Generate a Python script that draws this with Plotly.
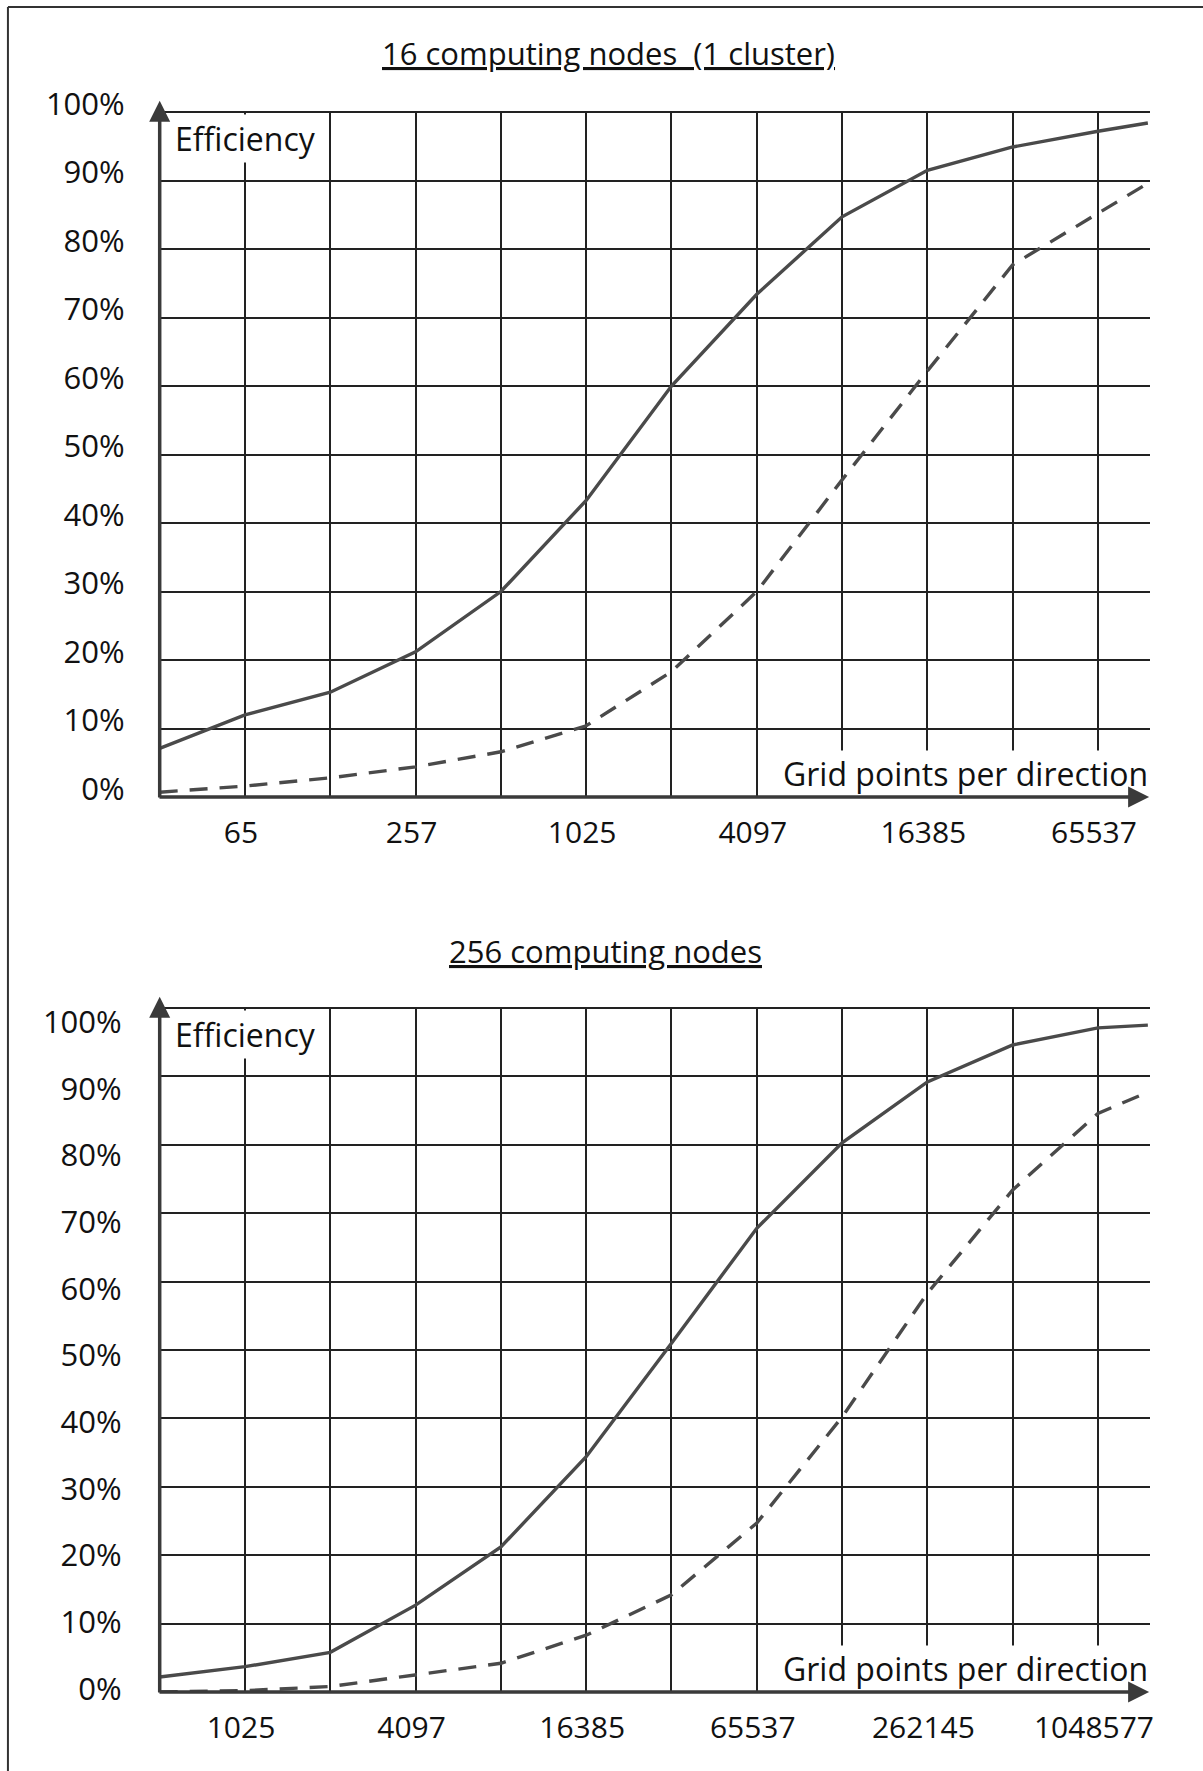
import numpy as np
import plotly.graph_objects as go

# ---------------- data ----------------
# Panel 1: 16 computing nodes (1 cluster)
grid_top = [33, 65, 129, 257, 513, 1025, 2049, 4097, 8193, 16385, 32769, 65537, 98305]
eff_top_solid = [7.1, 12.0, 15.3, 21.2, 30.0, 43.3, 60.0, 73.4, 84.7, 91.5, 94.9, 97.2, 98.4]
eff_top_dashed = [0.7, 1.6, 2.8, 4.4, 6.6, 10.4, 18.3, 30.0, 46.3, 62.2, 77.7, 85.2, 89.6]
ticks_top = [65, 129, 257, 513, 1025, 2049, 4097, 8193, 16385, 32769, 65537]
labels_top = ["65", "", "257", "", "1025", "", "4097", "", "16385", "", "65537"]

# Panel 2: 256 computing nodes
grid_bot = [513, 1025, 2049, 4097, 8193, 16385, 32769, 65537, 131073, 262145, 524289, 1048577, 1572865]
eff_bot_solid = [2.2, 3.7, 5.8, 12.7, 21.2, 34.4, 51.0, 67.8, 80.3, 89.2, 94.6, 97.1, 97.5]
eff_bot_dashed = [0.0, 0.2, 0.8, 2.5, 4.2, 8.3, 14.2, 24.7, 40.2, 58.3, 73.4, 84.6, 87.7]
ticks_bot = [1025, 2049, 4097, 8193, 16385, 32769, 65537, 131073, 262145, 524289, 1048577]
labels_bot = ["1025", "", "4097", "", "16385", "", "65537", "", "262145", "", "1048577"]

y_ticks = [0, 10, 20, 30, 40, 50, 60, 70, 80, 90, 100]
y_labels = [f"{v}%" for v in y_ticks]

titles = ["16 computing nodes&nbsp; (1 cluster)", "256 computing nodes"]
x_label = "Grid points per direction"
y_label = "Efficiency"


def pos(n):
    return np.log2(np.array(n, dtype=float) - 1)


FONT = "Open Sans"
LINE_C = "#4a4a4a"
GRID_C = "#222222"
AX_C = "#3a3a3a"
Y_TOP = 101.7  # room for the axis arrow head above 100 %

fig = go.Figure()

panels = [
    dict(grid=grid_top, solid=eff_top_solid, dashed=eff_top_dashed, ticks=ticks_top,
         labels=labels_top, xa="x", ya="y"),
    dict(grid=grid_bot, solid=eff_bot_solid, dashed=eff_bot_dashed, ticks=ticks_bot,
         labels=labels_bot, xa="x2", ya="y2"),
]

for p in panels:
    xs = pos(p["grid"])
    fig.add_trace(go.Scatter(x=xs, y=p["solid"], mode="lines", xaxis=p["xa"], yaxis=p["ya"],
                             line=dict(color=LINE_C, width=3.4), showlegend=False))
    fig.add_trace(go.Scatter(x=xs, y=p["dashed"], mode="lines", xaxis=p["xa"], yaxis=p["ya"],
                             line=dict(color=LINE_C, width=3.4, dash="18px,12px"), showlegend=False))

# empty trace so the label-only overlay axis of the lower panel is drawn
fig.add_trace(go.Scatter(x=[], y=[], xaxis="x2", yaxis="y3", showlegend=False, hoverinfo="skip"))

xdom = [0.13275, 0.95594]
ydom_top = [0.54997, 0.94331]
ydom_bot = [0.04461, 0.43738]

tick_font_x = dict(family=FONT, size=30, color="#111")
tick_font_y = dict(family=FONT, size=31, color="#111")

common_x = dict(showgrid=True, gridcolor=GRID_C, gridwidth=1.6, zeroline=False, showline=False,
                ticks="", tickmode="array", tickfont=tick_font_x,
                ticklabelstandoff=15, ticklabelshift=-4, automargin=False)
common_y = dict(showgrid=True, gridcolor=GRID_C, gridwidth=1.6, zeroline=False, showline=False,
                ticks="", tickmode="array", tickvals=y_ticks, ticktext=y_labels,
                tickfont=tick_font_y, range=[0, Y_TOP], automargin=False)

x0_top = pos([grid_top[0]])[0]
x0_bot = pos([grid_bot[0]])[0]
xend_top = x0_top + 11.61
xend_bot = x0_bot + 11.61

fig.update_layout(
    width=1203, height=1771, autosize=False,
    margin=dict(l=0, r=0, t=0, b=0, pad=0, autoexpand=False),
    paper_bgcolor="white", plot_bgcolor="white", showlegend=False,
    xaxis=dict(domain=xdom, range=[x0_top, xend_top], tickvals=pos(ticks_top), ticktext=labels_top,
               anchor="y", **common_x),
    yaxis=dict(domain=ydom_top, anchor="x", ticklabelshift=-8, ticklabelstandoff=34, **common_y),
    xaxis2=dict(domain=xdom, range=[x0_bot, xend_bot], tickvals=pos(ticks_bot), ticktext=labels_bot,
                anchor="y2", **common_x),
    yaxis2=dict(domain=ydom_bot, anchor="x2", showticklabels=False, **common_y),
    # the scanned lower panel prints its % labels slightly tighter than its grid
    yaxis3=dict(overlaying="y2", anchor="x2", side="left", range=[-0.45, 103.84],
                tickmode="array", tickvals=y_ticks, ticktext=y_labels, tickfont=tick_font_y,
                showgrid=False, zeroline=False, showline=False, ticks="",
                ticklabelstandoff=37, automargin=False),
)

annotations = []
title_pos = [(0.5062, 0.97007), (0.5037, 0.46302)]
doms = [ydom_top, ydom_bot]
for i, p in enumerate(panels):
    xa, ya = p["xa"], p["ya"]
    x0 = x0_top if i == 0 else x0_bot
    xend = xend_top if i == 0 else xend_bot
    # hide vertical grid above the 100 % line (paper-referenced white band)
    d0, d1 = doms[i]
    y_cut = d0 + (100.15 / Y_TOP) * (d1 - d0)
    fig.add_shape(type="rect", xref="paper", yref="paper", x0=xdom[0] + 0.002, x1=xdom[1] + 0.002,
                  y0=y_cut, y1=d1 + 0.004, fillcolor="white", line=dict(width=0), layer="above")
    # titles
    annotations.append(dict(text=f"<u>{titles[i]}</u>", xref="paper", yref="paper",
                            x=title_pos[i][0], y=title_pos[i][1], xanchor="center", yanchor="middle",
                            showarrow=False, font=dict(family=FONT, size=31, color="#111")))
    # axis labels with white boxes
    annotations.append(dict(text=y_label, xref=xa, yref=ya, x=x0, y=100, xanchor="left", yanchor="top",
                            xshift=12, yshift=-2, showarrow=False, bgcolor="white", borderpad=2,
                            font=dict(family=FONT, size=32, color="#111")))
    annotations.append(dict(text=x_label, xref=xa, yref=ya, x=xend, y=0, xanchor="right", yanchor="bottom",
                            xshift=0, yshift=0, showarrow=False, bgcolor="white", borderpad=1,
                            font=dict(family=FONT, size=32, color="#111")))
    # axis arrows
    annotations.append(dict(text="", xref=xa, yref=ya, axref=xa, ayref=ya, x=x0, y=Y_TOP - 0.05, ax=x0, ay=-0.3,
                            showarrow=True, arrowhead=2, arrowsize=1.2, arrowwidth=3.5, arrowcolor=AX_C))
    annotations.append(dict(text="", xref=xa, yref=ya, axref=xa, ayref=ya, x=xend - 0.01, y=0, ax=x0 - 0.02, ay=0,
                            showarrow=True, arrowhead=2, arrowsize=1.2, arrowwidth=3.5, arrowcolor=AX_C))

fig.update_layout(annotations=annotations)

# outer frame (top and left edges)
fig.add_shape(type="line", xref="paper", yref="paper", x0=0.0066, x1=1.0, y0=0.996, y1=0.996,
              line=dict(color="#333", width=2))
fig.add_shape(type="line", xref="paper", yref="paper", x0=0.0066, x1=0.0066, y0=0.0, y1=0.996,
              line=dict(color="#333", width=2))

fig.write_html("out.html")
